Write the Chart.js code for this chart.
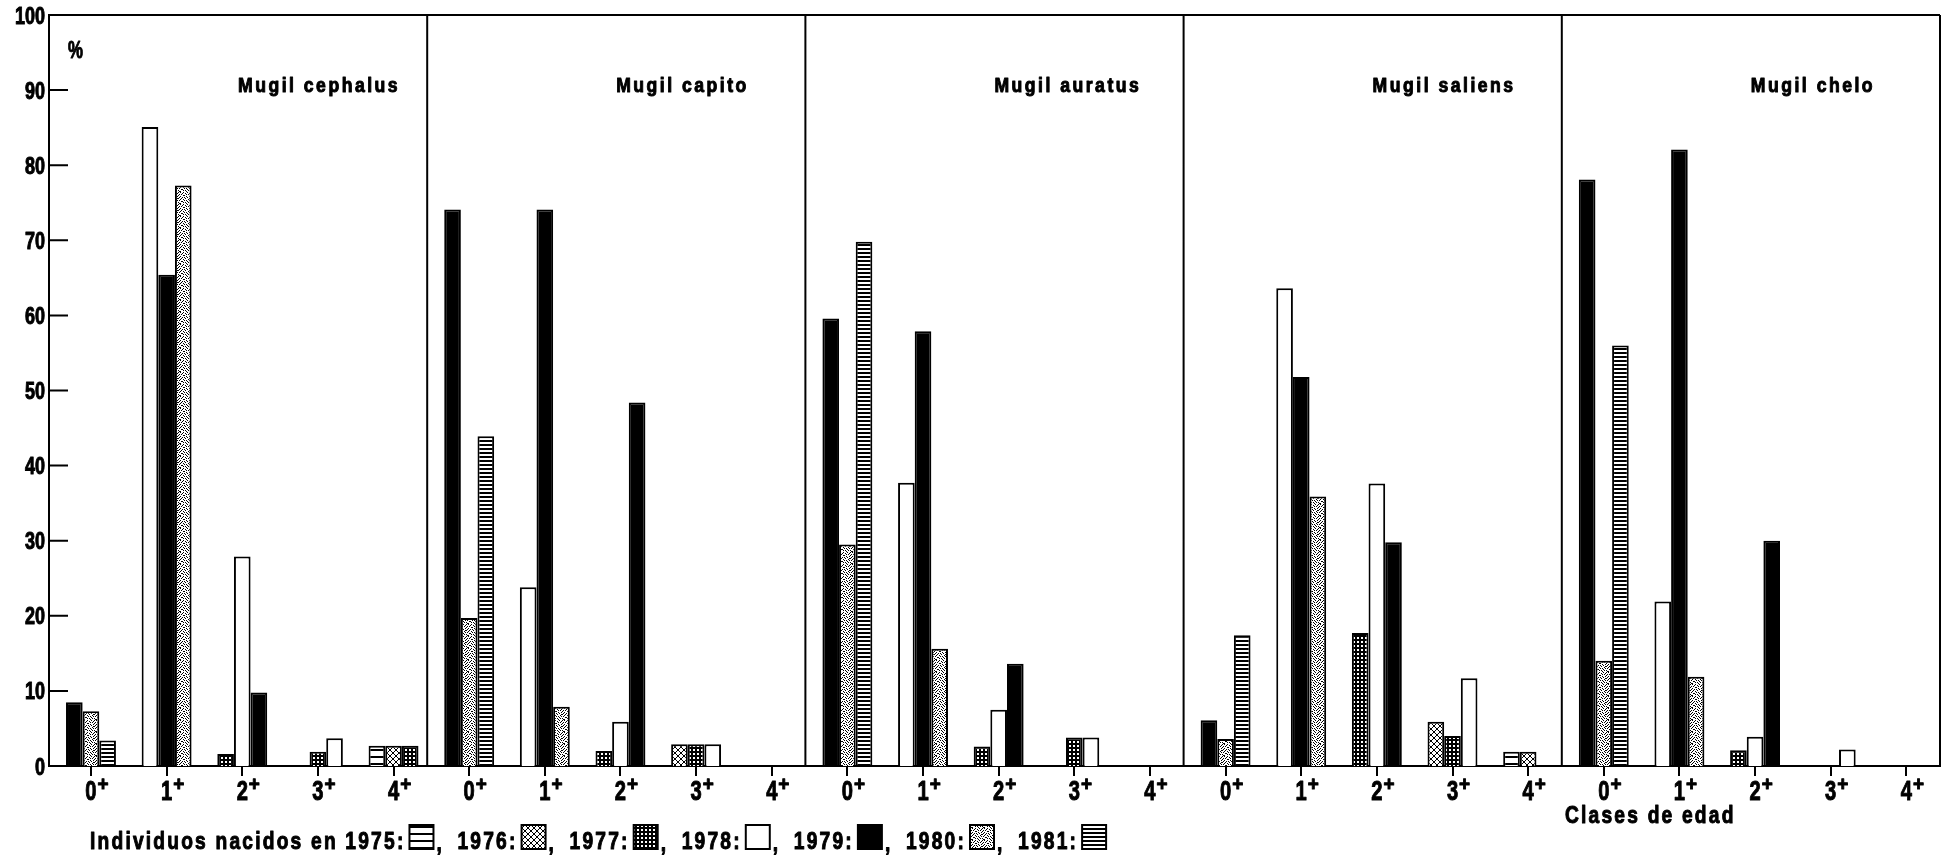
<!DOCTYPE html>
<html lang="es">
<head>
<meta charset="utf-8">
<title>Mugil: clases de edad por año de nacimiento</title>
<script src="https://cdn.jsdelivr.net/npm/chart.js@4.4.1/dist/chart.umd.min.js"></script>
<style>
  html, body { margin: 0; padding: 0; background: #fff; }
  canvas { display: block; }
</style>
</head>
<body>
<canvas id="grafico" width="1942" height="856"></canvas>
<script>
// ---- datos ----
const especies = ['Mugil cephalus', 'Mugil capito', 'Mugil auratus', 'Mugil saliens', 'Mugil chelo'];
const clasesEdad = ['0+', '1+', '2+', '3+', '4+'];
const anosNacimiento = [1975, 1976, 1977, 1978, 1979, 1980, 1981];
const anosMuestreo = [1979, 1980, 1981];

// % de individuos por clase de edad (especie × clase 0+…4+); null = sin barra
const muestreo1979 = [
  8.5, 85.1, 1.6, null, 2.7,
  74.1, 23.8, 2.0, 2.9, null,
  59.6, 37.7, 2.6, null, null,
  6.1, 63.6, 17.7, 5.9, 1.9,
  78.1, 21.9, 2.1, null, null
];
const muestreo1980 = [
  7.3, 65.4, 27.9, 1.9, 2.7,
  19.7, 74.1, 5.9, 2.9, null,
  29.5, 57.9, 7.5, 3.8, null,
  3.6, 51.8, 37.6, 4.0, 1.9,
  14.0, 82.1, 3.9, null, null
];
const muestreo1981 = [
  3.4, 77.3, 9.8, 3.7, 2.7,
  43.9, 7.9, 48.4, 2.9, null,
  69.8, 15.6, 13.6, 3.8, null,
  17.4, 35.9, 29.8, 11.7, null,
  56.0, 11.9, 30.0, 2.2, null
];
const ejeY = { min: 0, max: 100, paso: 10 };

// ---- tramas de relleno (una por año de nacimiento) ----
const FUENTE = "'Liberation Sans', Arial, sans-serif";

function trama(filas) {
  const h = filas.length, w = filas[0].length;
  const c = document.createElement('canvas');
  c.width = w; c.height = h;
  const g = c.getContext('2d');
  g.fillStyle = '#fff'; g.fillRect(0, 0, w, h);
  g.fillStyle = '#000';
  filas.forEach((fila, j) => [...fila].forEach((b, i) => { if (b === '1') g.fillRect(i, j, 1, 1); }));
  return g.createPattern(c, 'repeat');
}

const relleno = {
  1975: trama(['1', '1', '0', '0', '0', '0', '0']),
  1976: trama(['100001', '010010', '001100', '001100', '010010', '100001']),
  1977: trama(['1111', '1001', '1001', '1111']),
  1978: '#ffffff',
  1979: '#000000',
  1980: trama([
    '100100010010',
    '001001000100',
    '010000101001',
    '000110000010',
    '100000100100',
    '001010010001',
    '010001000110',
    '100100001000',
    '000010100101',
    '011000010000',
    '000101001010',
    '100000100001'
  ]),
  1981: trama(['1', '1', '0', '0'])
};

const series = [muestreo1979, muestreo1980, muestreo1981];
const nacidoEn = (iSerie, indice) => anosMuestreo[iSerie] - (indice % clasesEdad.length);

// ---- texto en negrita estrecha (tipografía comprimida horizontalmente) ----
function rotulo(ctx, s, px, py, o) {
  ctx.save();
  ctx.font = `bold ${o.size}px ${FUENTE}`;
  ctx.letterSpacing = ((o.esp || 0) / o.sx) + 'px';
  ctx.textAlign = 'left';
  ctx.textBaseline = 'alphabetic';
  const w = ctx.measureText(s).width * o.sx;
  let x0 = px;
  if (o.align === 'right') x0 = px - w;
  else if (o.align === 'center') x0 = px - w / 2;
  ctx.translate(x0, py);
  ctx.scale(o.sx, 1);
  ctx.fillStyle = '#000';
  ctx.strokeStyle = '#000';
  ctx.lineWidth = 1;
  ctx.lineJoin = 'round';
  ctx.fillText(s, 0, 0);
  ctx.strokeText(s, 0, 0);
  ctx.restore();
  return w;
}

function muestra(ctx, fill, px, py, w, h) {
  ctx.fillStyle = fill;
  ctx.fillRect(px, py, w, h);
  ctx.lineWidth = 2;
  ctx.strokeStyle = '#000';
  ctx.strokeRect(px, py, w, h);
}

const marco = {
  id: 'marco',
  afterDatasetsDraw(chart) {
    const { ctx, chartArea: a, scales: { x, y } } = chart;
    const nClases = clasesEdad.length;
    ctx.save();
    ctx.strokeStyle = '#000';
    ctx.lineWidth = 2;
    ctx.beginPath();
    ctx.moveTo(a.left, a.top); ctx.lineTo(a.right, a.top);
    ctx.moveTo(a.right, a.top); ctx.lineTo(a.right, a.bottom);
    for (let p = 1; p < especies.length; p++) {
      const px = x.getPixelForValue(x.min + p * nClases);
      ctx.moveTo(px, a.top); ctx.lineTo(px, a.bottom);
    }
    y.ticks.forEach(t => {
      if (t.value > ejeY.min && t.value < ejeY.max) {
        const py = y.getPixelForValue(t.value);
        ctx.moveTo(a.left, py); ctx.lineTo(a.left + 19, py);
      }
    });
    ctx.stroke();
    ctx.restore();

    // rótulos del eje Y
    y.ticks.forEach(t => {
      rotulo(ctx, String(t.label), a.left - 4, y.getPixelForValue(t.value) + 8.5, { size: 24, sx: 0.75, align: 'right' });
    });
    // rótulos del eje X: cifra + «+» volado
    x.ticks.forEach((t, i) => {
      const px = x.getPixelForTick(i);
      const [cifra, mas] = [String(t.label).slice(0, -1), String(t.label).slice(-1)];
      const w = rotulo(ctx, cifra, px, a.bottom + 34, { size: 28, sx: 0.72, align: 'center' });
      rotulo(ctx, mas, px + w / 2 + 1, a.bottom + 25, { size: 21, sx: 0.9 });
    });

    rotulo(ctx, '%', a.left + 19, a.top + 43, { size: 24, sx: 0.7 });
    especies.forEach((nombre, p) => {
      const px = x.getPixelForValue(x.min + p * nClases);
      rotulo(ctx, nombre, px + 189, a.top + 77, { size: 20, sx: 0.88, esp: 2.5 });
    });

    rotulo(ctx, 'Clases de edad', 1565, 823, { size: 24, sx: 0.8, esp: 2.2 });

    // leyenda
    const ly = 849;
    const fl = { size: 24, sx: 0.8, esp: 2.2 };
    let cx = 90;
    cx += rotulo(ctx, 'Individuos nacidos en ', cx, ly, fl);
    anosNacimiento.forEach((an, i) => {
      cx += rotulo(ctx, an + ':', cx, ly, fl);
      cx += 4;
      muestra(ctx, relleno[an], cx, ly - 24, 24, 24);
      cx += 25;
      if (i < anosNacimiento.length - 1) {
        rotulo(ctx, ',', cx + 2, ly + 2, { size: 24, sx: 0.8 });
        cx += 23;
      }
    });
  }
};

// ---- gráfico ----
const nCat = especies.length * clasesEdad.length;
new Chart(document.getElementById('grafico'), {
  type: 'bar',
  data: {
    datasets: series.map((valores, i) => ({
      label: 'Muestreo ' + anosMuestreo[i],
      data: valores.map((v, k) => ({ x: k, y: v })),
      backgroundColor: c => relleno[nacidoEn(i, c.dataIndex)],
      borderColor: '#000',
      borderWidth: 2,
      borderSkipped: 'bottom',
      categoryPercentage: 0.66,
      barPercentage: 1.0
    }))
  },
  options: {
    responsive: false,
    animation: false,
    events: [],
    layout: { padding: { top: 15, right: 2, left: 0, bottom: 0 } },
    plugins: { legend: { display: false }, tooltip: { enabled: false } },
    scales: {
      x: {
        type: 'linear',
        bounds: 'data',
        offset: false,
        min: -0.555,
        max: nCat - 0.555,
        afterBuildTicks: s => { s.ticks = Array.from({ length: nCat }, (_, k) => ({ value: k })); },
        afterFit: s => { s.height = 90; },
        ticks: {
          display: false,
          autoSkip: false,
          maxRotation: 0,
          callback: v => clasesEdad[((Math.round(v) % clasesEdad.length) + clasesEdad.length) % clasesEdad.length]
        },
        grid: { offset: false, drawOnChartArea: false, drawTicks: true, tickLength: 10, color: '#000', lineWidth: 2 },
        border: { display: true, color: '#000', width: 2 }
      },
      y: {
        min: ejeY.min,
        max: ejeY.max,
        afterFit: s => { s.width = 49; },
        ticks: { display: false, stepSize: ejeY.paso },
        grid: { display: false },
        border: { display: true, color: '#000', width: 2 }
      }
    }
  },
  plugins: [marco]
});
</script>
</body>
</html>
